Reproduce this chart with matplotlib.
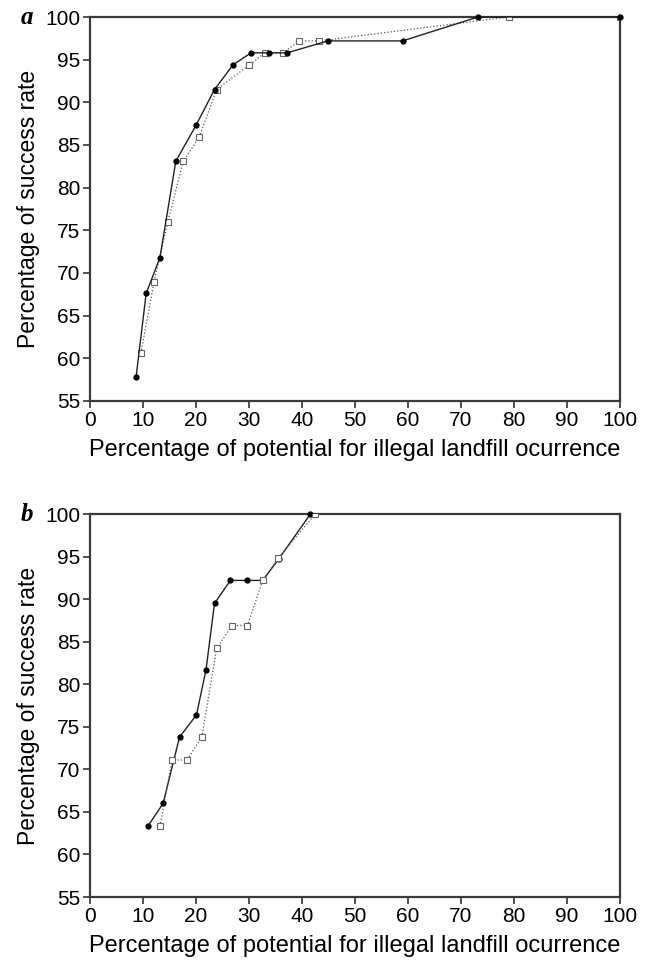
import matplotlib.pyplot as plt

# panel a: filled circles (solid line) and open squares (dotted line)
a_fill_x = [8.7, 10.6, 13.2, 16.2, 20.0, 23.5, 27.0, 30.4, 33.8, 37.2, 44.9, 59.0, 73.2, 100.0]
a_fill_y = [57.8, 67.6, 71.8, 83.1, 87.3, 91.5, 94.4, 95.8, 95.8, 95.8, 97.2, 97.2, 100.0, 100.0]
a_open_x = [9.6, 12.1, 14.7, 17.6, 20.6, 23.9, 30.1, 33.0, 36.4, 39.5, 43.3, 79.0, 100.0]
a_open_y = [60.6, 69.0, 76.0, 83.1, 85.9, 91.5, 94.4, 95.8, 95.8, 97.2, 97.2, 100.0, 100.0]

# panel b
b_fill_x = [10.9, 13.8, 16.9, 20.1, 21.9, 23.5, 26.5, 29.6, 32.6, 35.6, 41.6]
b_fill_y = [63.3, 66.0, 73.8, 76.4, 81.7, 89.5, 92.2, 92.2, 92.2, 94.7, 100.0]
b_open_x = [13.2, 15.5, 18.3, 21.1, 23.9, 26.8, 29.7, 32.6, 35.5, 42.5]
b_open_y = [63.3, 71.1, 71.1, 73.8, 84.2, 86.9, 86.9, 92.2, 94.8, 100.0]

x_ticks = list(range(0, 101, 10))
y_ticks = list(range(55, 101, 5))

plt.rcParams['font.family'] = ['Liberation Sans', 'DejaVu Sans']

fig = plt.figure(figsize=(6.51, 9.66), dpi=100)
ax_a = fig.add_axes([0.1382, 0.5849, 0.8141, 0.3975])
ax_b = fig.add_axes([0.1382, 0.0714, 0.8141, 0.3965])

# last item: z-order of the open-square series (on top of filled in panel b)
panels = [
    (ax_a, 'a', a_fill_x, a_fill_y, a_open_x, a_open_y, 3),
    (ax_b, 'b', b_fill_x, b_fill_y, b_open_x, b_open_y, 5),
]

for ax, letter, fx, fy, ox, oy, oz in panels:
    ax.plot(ox, oy, linestyle=':', color='#555555', linewidth=0.9,
            marker='s', markersize=4, markerfacecolor='white',
            markeredgecolor='#666666', markeredgewidth=0.8, zorder=oz)
    ax.plot(fx, fy, linestyle='-', color='#222222', linewidth=1.0,
            marker='o', markersize=3.5, markerfacecolor='black',
            markeredgecolor='black', zorder=4, clip_on=False)

    ax.set_xlim(0, 100)
    ax.set_ylim(55, 100)
    ax.set_xticks(x_ticks)
    ax.set_yticks(y_ticks)
    ax.tick_params(direction='out', length=5, width=1.2, color='#333333',
                   labelsize=15, pad=2)
    for s in ax.spines.values():
        s.set_linewidth(1.6)
        s.set_color('#3a3a3a')

    ax.set_xlabel('Percentage of potential for illegal landfill ocurrence',
                  fontsize=17, labelpad=7)
    ax.set_ylabel('Percentage of success rate', fontsize=16.5, labelpad=4)
    ax.text(-0.13, 1.0, letter, transform=ax.transAxes, fontsize=18,
            fontweight='bold', fontstyle='italic', family='Liberation Serif',
            ha='left', va='center')

fig.savefig('out.png', dpi=100)
